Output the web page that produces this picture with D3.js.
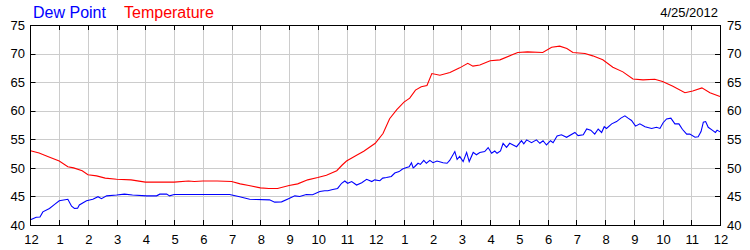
<!DOCTYPE html>
<html>
<head>
<meta charset="utf-8">
<script src="https://cdn.jsdelivr.net/npm/d3@7"></script>
<style>
  html, body { margin: 0; padding: 0; background: #fff; }
  svg { display: block; font-family: "Liberation Sans", Arial, sans-serif; }
</style>
</head>
<body>
<svg id="chart" width="750" height="250"></svg>
<script>
var chartDate = '4/25/2012';
var hourLabels = ['12', '1', '2', '3', '4', '5', '6', '7', '8', '9', '10', '11',
                  '12', '1', '2', '3', '4', '5', '6', '7', '8', '9', '10', '11', '12'];
var yTicks = [40, 45, 50, 55, 60, 65, 70, 75];

// hours since midnight
var tempHours = [0, 0.3, 0.6, 1.0, 1.3, 1.5, 1.8, 2.0, 2.3, 2.6, 3.0, 3.5, 4.0, 4.5, 5.0, 5.5, 5.7,
  6.0, 6.5, 7.0, 7.3, 7.6, 8.0, 8.3, 8.6, 9.0, 9.3, 9.65, 10.0, 10.3, 10.66, 10.85, 11.0, 11.35,
  11.6, 12.0, 12.27, 12.5, 12.75, 13.0, 13.2, 13.4, 13.6, 13.8, 13.97, 14.25, 14.6, 14.94, 15.22,
  15.4, 15.64, 16.0, 16.34, 16.96, 17.3, 17.83, 18.14, 18.42, 18.67, 18.88, 19.3, 19.57, 19.92,
  20.27, 20.62, 20.97, 21.32, 21.73, 22.0, 22.36, 22.78, 23.05, 23.37, 23.65, 24];
var tempValues = [53.0, 52.6, 52.0, 51.2, 50.2, 50.0, 49.5, 48.8, 48.6, 48.2, 48.0, 47.9, 47.5, 47.5,
  47.5, 47.7, 47.6, 47.7, 47.7, 47.6, 47.2, 46.9, 46.5, 46.4, 46.4, 46.9, 47.2, 47.9, 48.3, 48.7,
  49.5, 50.5, 51.2, 52.2, 52.9, 54.3, 56.0, 58.6, 60.2, 61.5, 62.2, 63.6, 64.2, 64.4, 66.5, 66.2,
  66.7, 67.5, 68.3, 67.8, 68.0, 68.75, 68.9, 70.2, 70.3, 70.2, 71.1, 71.3, 70.9, 70.2, 70.0, 69.6,
  68.9, 67.6, 66.8, 65.55, 65.4, 65.5, 65.1, 64.3, 63.15, 63.45, 64.0, 63.15, 62.5];

var dewHours = [0, 0.2, 0.33, 0.43, 0.66, 0.84, 1.0, 1.3, 1.43, 1.53, 1.64, 1.7, 1.95, 2.17, 2.35,
  2.47, 2.65, 3.0, 3.27, 3.55, 4.04, 4.39, 4.5, 4.74, 4.84, 5.0, 6.93, 7.28, 7.63, 8.32, 8.5, 8.74,
  9.0, 9.2, 9.37, 9.6, 9.82, 10.07, 10.24, 10.35, 10.52, 10.69, 10.83, 10.94, 11.04, 11.18, 11.35,
  11.53, 11.7, 11.88, 11.98, 12.16, 12.26, 12.39, 12.56, 12.68, 12.83, 12.95, 13.09, 13.18, 13.26,
  13.32, 13.37, 13.49, 13.57, 13.69, 13.78, 13.9, 14.01, 14.15, 14.36, 14.5, 14.59, 14.77, 14.85,
  14.94, 15.06, 15.18, 15.27, 15.41, 15.52, 15.64, 15.81, 15.93, 16.05, 16.16, 16.24, 16.36, 16.45,
  16.57, 16.68, 16.92, 17.09, 17.17, 17.27, 17.44, 17.61, 17.73, 17.84, 17.96, 18.1, 18.19, 18.33,
  18.48, 18.66, 18.95, 19.06, 19.24, 19.36, 19.5, 19.64, 19.76, 19.88, 19.97, 20.05, 20.23, 20.4,
  20.55, 20.69, 20.8, 20.92, 21.06, 21.21, 21.39, 21.62, 21.79, 21.91, 22.02, 22.14, 22.29, 22.43,
  22.57, 22.69, 22.84, 22.95, 23.13, 23.24, 23.34, 23.42, 23.5, 23.59, 23.73, 23.84, 23.9, 24];
var dewValues = [40.9, 41.35, 41.4, 42.3, 42.9, 43.6, 44.25, 44.5, 43.3, 42.9, 42.95, 43.5, 44.25,
  44.5, 44.95, 44.6, 45.1, 45.25, 45.4, 45.25, 45.1, 45.1, 45.4, 45.4, 45.1, 45.35, 45.35, 44.95,
  44.5, 44.4, 44.0, 44.05, 44.65, 45.1, 45.0, 45.35, 45.3, 45.85, 46.0, 46.0, 46.2, 46.4, 47.3, 47.7,
  47.3, 47.6, 47.0, 47.4, 48.0, 47.6, 47.9, 47.75, 48.2, 48.3, 48.5, 49.1, 49.35, 49.8, 50.05, 50.2,
  50.9, 50.0, 50.2, 50.8, 50.6, 51.3, 50.8, 51.3, 50.9, 51.2, 50.9, 50.8, 51.3, 52.85, 51.5, 52.0,
  51.1, 52.7, 51.1, 52.7, 52.3, 52.7, 52.85, 53.55, 52.55, 52.95, 52.55, 52.95, 54.3, 53.6, 54.3,
  53.7, 54.75, 54.2, 54.9, 54.4, 54.9, 54.3, 54.75, 54.0, 54.75, 54.4, 55.6, 55.8, 55.35, 56.2, 55.65,
  55.8, 56.8, 56.6, 55.9, 56.8, 56.2, 57.2, 56.9, 57.7, 58.1, 58.7, 59.1, 58.7, 58.3, 57.3, 57.7,
  57.2, 56.9, 57.1, 56.9, 57.9, 58.55, 58.7, 57.7, 57.7, 56.75, 55.9, 55.9, 55.35, 55.45, 56.35,
  58.0, 58.1, 57.1, 56.6, 56.2, 56.6, 56.3];

var svg = d3.select('#chart'),
    plotLeft = 30.5,
    plotRight = 720,
    plotTop = 25,
    plotBottom = 225,
    tickLen = 5;

var x = d3.scaleLinear().domain([0, 24]).range([plotLeft, plotRight]);
var y = d3.scaleLinear().domain([40, 75]).range([plotBottom, plotTop]);
var crisp = function(v) { return Math.round(v) + 0.5; };

// grid
var grid = svg.append('g').attr('stroke', '#cccccc').attr('stroke-width', 1);
grid.selectAll('line.gx')
  .data(d3.range(1, 24))
  .enter().append('line')
    .attr('x1', function(d) { return crisp(x(d)); })
    .attr('x2', function(d) { return crisp(x(d)); })
    .attr('y1', plotTop)
    .attr('y2', plotBottom);
grid.selectAll('line.gy')
  .data(yTicks.slice(1, -1))
  .enter().append('line')
    .attr('x1', plotLeft)
    .attr('x2', plotRight)
    .attr('y1', function(d) { return crisp(y(d)); })
    .attr('y2', function(d) { return crisp(y(d)); });

// series
var line = d3.line()
  .x(function(d) { return x(d[0]); })
  .y(function(d) { return y(d[1]); });

svg.append('path')
  .datum(d3.zip(tempHours, tempValues))
  .attr('fill', 'none')
  .attr('stroke', '#ff0000')
  .attr('stroke-width', 1.1)
  .attr('d', line);

svg.append('path')
  .datum(d3.zip(dewHours, dewValues))
  .attr('fill', 'none')
  .attr('stroke', '#0000ff')
  .attr('stroke-width', 1.1)
  .attr('d', line);

// frame with inward ticks on all four sides
var frame = svg.append('g').attr('stroke', '#000').attr('stroke-width', 1);
frame.append('rect')
  .attr('x', crisp(plotLeft) - 1)
  .attr('y', plotTop + 0.5)
  .attr('width', crisp(plotRight) - crisp(plotLeft) + 1)
  .attr('height', plotBottom - plotTop)
  .attr('fill', 'none');
d3.range(1, 24).forEach(function(h) {
  var px = crisp(x(h));
  frame.append('line').attr('x1', px).attr('x2', px).attr('y1', plotTop).attr('y2', plotTop + tickLen);
  frame.append('line').attr('x1', px).attr('x2', px).attr('y1', plotBottom).attr('y2', plotBottom - tickLen);
});
yTicks.slice(1, -1).forEach(function(v) {
  var py = crisp(y(v));
  frame.append('line').attr('x1', plotLeft).attr('x2', plotLeft + tickLen).attr('y1', py).attr('y2', py);
  frame.append('line').attr('x1', plotRight).attr('x2', plotRight - tickLen).attr('y1', py).attr('y2', py);
});

// tick labels
var labels = svg.append('g').attr('font-size', 13).attr('fill', '#000');
labels.selectAll('text.yl')
  .data(yTicks)
  .enter().append('text')
    .attr('x', 25)
    .attr('y', function(d) { return y(d); })
    .attr('dy', '0.36em')
    .attr('text-anchor', 'end')
    .text(function(d) { return d; });
labels.selectAll('text.yr')
  .data(yTicks)
  .enter().append('text')
    .attr('x', 727)
    .attr('y', function(d) { return y(d); })
    .attr('dy', '0.36em')
    .text(function(d) { return d; });
labels.selectAll('text.xl')
  .data(hourLabels)
  .enter().append('text')
    .attr('x', function(d, i) { return x(i) + 1; })
    .attr('y', 243.5)
    .attr('text-anchor', 'middle')
    .text(function(d) { return d; });

// legend and date
svg.append('text')
  .attr('x', 33).attr('y', 18)
  .attr('font-size', 16).attr('fill', '#0000ff')
  .text('Dew Point');
svg.append('text')
  .attr('x', 124).attr('y', 18)
  .attr('font-size', 16).attr('fill', '#ff0000')
  .text('Temperature');
svg.append('text')
  .attr('x', 718).attr('y', 17)
  .attr('font-size', 13).attr('text-anchor', 'end')
  .text(chartDate);
</script>
</body>
</html>
